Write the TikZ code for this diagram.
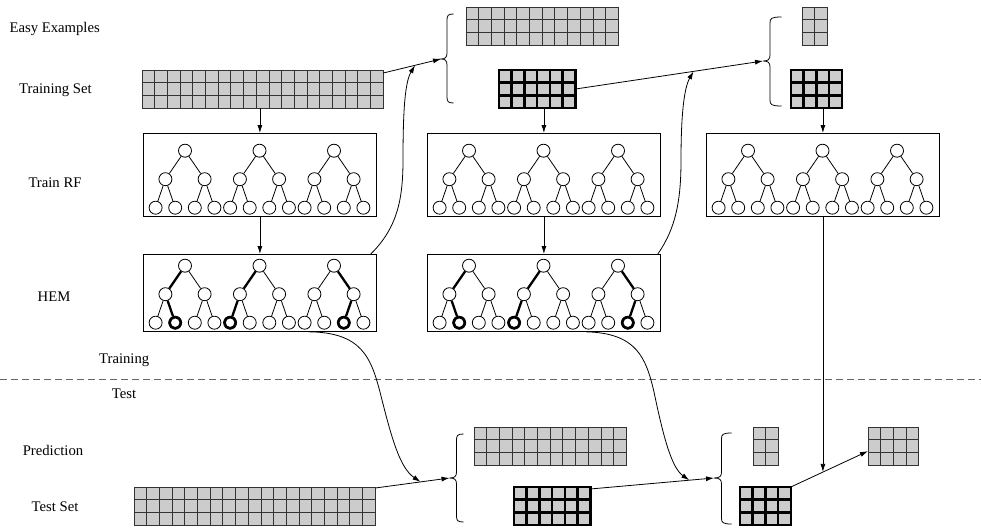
\documentclass[tikz,border=0pt]{standalone}
\usepackage{fontspec}
\setmainfont{Liberation Serif}
\usetikzlibrary{arrows.meta,calc}
\definecolor{cellgray}{HTML}{CCCCCC}
\definecolor{dashgray}{HTML}{666666}
\newcommand\cellgrid[6]{%
  \node[gridnode,#6,minimum width=#4*12.7pt,minimum height=#5*12.7pt,anchor=north west] (#1) at (#2,#3) {};
  \foreach \i in {1,...,#4}{\draw[#6] (#2+\i*12.7-12.7,#3) -- ++(0,#5*12.7);}
  \foreach \j in {1,...,#5}{\draw[#6] (#2,#3+\j*12.7-12.7) -- ++(#4*12.7,0);}
  \node[gridnode,#6,fill=none,minimum width=#4*12.7pt,minimum height=#5*12.7pt,anchor=north west] (#1b) at (#2,#3) {};
}
\newcommand\drawtree[4]{%
  \node[tn] (#1r) at (#2,#3) {};
  \node[tn] (#1a) at (#2-19.6,#3+28.5) {};
  \node[tn] (#1b) at (#2+19.6,#3+28.5) {};
  \node[tn] (#1p) at (#2-29.4,#3+57) {};
  \node[tn] (#1q) at (#2-9.8,#3+57) {};
  \node[tn] (#1s) at (#2+9.8,#3+57) {};
  \node[tn] (#1t) at (#2+29.4,#3+57) {};
  \draw[edge] (#1r) -- (#1a);
  \draw[edge] (#1r) -- (#1b);
  \draw[edge] (#1a) -- (#1p);
  \draw[edge] (#1a) -- (#1q);
  \draw[edge] (#1b) -- (#1s);
  \draw[edge] (#1b) -- (#1t);
  \ifcase#4\or
    \draw[bedge] (#1r) -- (#1a); \draw[bedge] (#1a) -- (#1q); \draw[bleaf] (#1q) circle[radius=5.6pt];
  \or
    \draw[bedge] (#1r) -- (#1a); \draw[bedge] (#1a) -- (#1p); \draw[bleaf] (#1p) circle[radius=5.6pt];
  \or
    \draw[bedge] (#1r) -- (#1b); \draw[bedge] (#1b) -- (#1s); \draw[bleaf] (#1s) circle[radius=5.6pt];
  \fi
}
\newcommand\cbrace[7]{% name, tipx, tipy, top, bottom, vertical offset, end offset
  \coordinate (#1) at (#2,#3);
  \draw[bracestyle] (#2+#7,#4) .. controls (#2+#6+1,#4) and (#2+#6,#4+1.5) .. (#2+#6,#4+6)
    -- (#2+#6,#3-6) .. controls (#2+#6,#3-1.5) and (#2+#6-2,#3) .. (#2,#3)
    .. controls (#2+#6-2,#3) and (#2+#6,#3+1.5) .. (#2+#6,#3+6)
    -- (#2+#6,#5-6) .. controls (#2+#6,#5-1.5) and (#2+#6+1,#5) .. (#2+#7,#5);
}
\begin{document}
\begin{tikzpicture}[x=1pt,y=-1pt,
  lbl/.style={font=\fontsize{14.7}{17}\selectfont,inner sep=0pt,anchor=base},
  gridnode/.style={draw,fill=cellgray,inner sep=0pt,outer sep=0pt},
  thin grid/.style={line width=0.9pt,draw=black!80},
  bold grid/.style={line width=2.6pt,draw=black},
  treebox/.style={draw,line width=0.8pt,inner sep=0pt,anchor=north west,minimum width=233pt},
  tn/.style={circle,draw,fill=white,minimum size=13pt,inner sep=0pt,line width=0.8pt},
  edge/.style={line width=0.8pt},
  bedge/.style={line width=2.3pt},
  bleaf/.style={line width=2.4pt},
  bracestyle/.style={line width=0.8pt},
  arr/.style={line width=0.8pt,-{Latex[length=8pt,width=5pt]}},
  divider/.style={dashgray,line width=1pt,dash pattern=on 7pt off 4pt}
]
\useasboundingbox (0,0) rectangle (981,527);

% labels
\node[lbl] (lEasy) at (54.7,32.5) {Easy Examples};
\node[lbl] (lTrainSet) at (55.5,93.5) {Training Set};
\node[lbl] (lTrainRF) at (55,187) {Train RF};
\node[lbl] (lHEM) at (54,301) {HEM};
\node[lbl] (lTraining) at (124.2,363.5) {Training};
\node[lbl] (lTest) at (124,398.5) {Test};
\node[lbl] (lPred) at (53,455) {Prediction};
\node[lbl] (lTestSet) at (55,511) {Test Set};

% divider
\coordinate (dl) at (0,379.5);
\coordinate (dr) at (981,379.5);
\draw[divider] (dl) -- (dr);

% grids
\cellgrid{trainset}{142}{70}{19}{3}{thin grid}
\cellgrid{easyA}{466}{7}{12}{3}{thin grid}
\cellgrid{hardA}{499}{70}{6}{3}{bold grid}
\cellgrid{easyB}{802}{7}{2}{3}{thin grid}
\cellgrid{hardB}{791}{70}{4}{3}{bold grid}
\cellgrid{testset}{134}{487}{19}{3}{thin grid}
\cellgrid{easyC}{474}{427}{12}{3}{thin grid}
\cellgrid{hardC}{514}{487}{6}{3}{bold grid}
\cellgrid{easyD}{753}{427}{2}{3}{thin grid}
\cellgrid{hardD}{740}{487}{4}{3}{bold grid}
\cellgrid{result}{868}{427}{4}{3}{thin grid}

% tree boxes
\node[treebox,minimum height=83pt] (rf1) at (143,133) {};
\node[treebox,minimum height=83pt] (rf2) at (427,133) {};
\node[treebox,minimum height=83pt] (rf3) at (706,133) {};
\node[treebox,minimum height=77pt] (hem1) at (143,254) {};
\node[treebox,minimum height=77pt] (hem2) at (427,254) {};

\foreach \bx/\nm in {143/A,427/B,706/C}{
  \drawtree{rf\nm x}{\bx+42}{150.7}{0}
  \drawtree{rf\nm y}{\bx+116.5}{150.7}{0}
  \drawtree{rf\nm z}{\bx+191}{150.7}{0}
}
\foreach \bx/\nm in {143/A,427/B}{
  \drawtree{hem\nm x}{\bx+42}{265.7}{1}
  \drawtree{hem\nm y}{\bx+116.5}{265.7}{2}
  \drawtree{hem\nm z}{\bx+191}{265.7}{3}
}

% braces
\cbrace{brA}{441}{59}{14}{103}{6}{12.5}
\cbrace{brB}{763}{61}{17}{106}{7}{18.5}
\cbrace{brC}{449.5}{478}{434}{522}{7}{14}
\cbrace{brD}{714}{478}{433}{524}{7.5}{17.5}

% vertical arrows
\draw[arr] (trainset.south -| rf1.north) -- (rf1.north);
\draw[arr] (rf1.south) -- (hem1.north);
\draw[arr] (hardA.south -| rf2.north) -- (rf2.north);
\draw[arr] (rf2.south) -- (hem2.north);
\draw[arr] (hardB.south -| rf3.north) -- (rf3.north);

% straight arrows to braces
\coordinate (sA) at ($(trainset.north east)+(0,3)$);
\draw[arr] (sA) -- (brA);
\coordinate (mA) at ($(sA)!0.55!(brA)$);
\draw[arr] (hardA.east) -- (brB);
\coordinate (mB) at ($(hardA.east)!0.63!(brB)$);
\coordinate (sC) at ($(testset.north east)+(0,1)$);
\draw[arr] (sC) -- (brC);
\coordinate (mC) at ($(sC)!0.61!(brC)$);
\coordinate (sD) at ($(hardC.north east)+(0,2)$);
\draw[arr] (sD) -- (brD);
\coordinate (mD) at ($(sD)!0.80!(brD)$);
\coordinate (rt) at ($(result.south west)+(0,-14)$);
\draw[arr] (hardD.north east) -- (rt);
\coordinate (mE) at ($(hardD.north east)!0.42!(rt)$);
\draw[arr] (rf3.south) -- (rf3.south |- mE);

% curved arrows
\draw[arr] ($(hem1.north east)+(-6,0)$) .. controls (397,228) and (403,200) .. (403,160)
  .. controls (403,110) and (405,82) .. (mA);
\draw[arr] ($(hem2.north east)+(-3,0)$) .. controls (676,228) and (681,200) .. (681,160)
  .. controls (681,115) and (684,88) .. (mB);
\draw[arr] ($(hem1.south east)+(-69,0)$) .. controls (362,332) and (371,358) .. (380,392)
  .. controls (392,440) and (400,468) .. (mC);
\draw[arr] ($(hem2.south east)+(-75,0)$) .. controls (637,333) and (646,358) .. (654,392)
  .. controls (664,440) and (672,468) .. (mD);
\end{tikzpicture}
\end{document}
